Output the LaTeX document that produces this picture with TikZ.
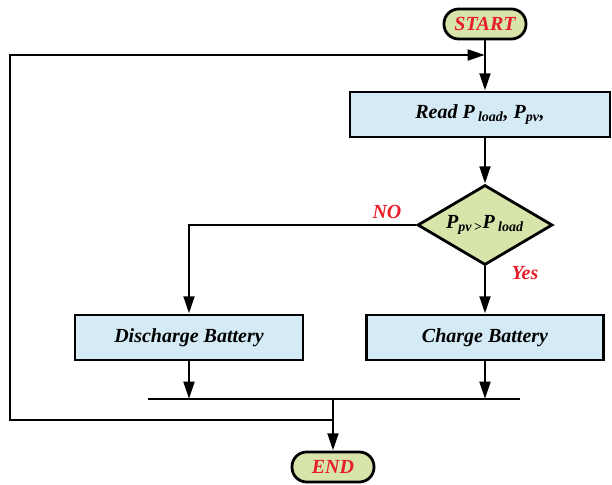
\documentclass[tikz,border=0pt]{standalone}
\usepackage{fontspec}
\setmainfont{Liberation Serif}
\usepackage{xcolor}
\usetikzlibrary{shapes.geometric,arrows.meta}
\definecolor{boxblue}{RGB}{212,235,245}
\definecolor{termgreen}{RGB}{215,228,170}
\definecolor{labelred}{RGB}{232,30,40}

\begin{document}
\begin{tikzpicture}[x=0.75pt,y=0.75pt,yscale=-1,xscale=1,
    line/.style={line width=2.1pt},
    arr/.style={line width=2.1pt,-{Triangle[length=13pt,width=8pt]}},
    bfit/.style={font=\fontsize{15}{18}\selectfont\bfseries\itshape},
    term/.style={draw,line width=2.1pt,fill=termgreen,rounded corners=11pt,minimum width=61.5pt,minimum height=22.5pt,inner sep=0pt,text=labelred,bfit},
    proc/.style={draw,line width=2.1pt,fill=boxblue,minimum height=33.75pt,inner sep=0pt,bfit},
    cond/.style={draw,diamond,shape aspect=1.7,line width=2.1pt,fill=termgreen,minimum width=101.25pt,minimum height=60pt,inner sep=0pt,bfit},
    lbl/.style={text=labelred,bfit}]
    \useasboundingbox (0,0) rectangle (612,485);
    % Terminals
    \node[term] (start) at (485,24) {START};
    \node[term] (end) at (333,467) {END};
    % Process boxes
    \node[proc,minimum width=195pt] (read) at (480,114.5) {Read P\,\textsubscript{load}, P\textsubscript{pv},};
    \node[proc,minimum width=171pt] (dis) at (189,337.5) {Discharge Battery};
    \node[proc,minimum width=177.75pt] (chg) at (485,337.5) {Charge Battery};
    % Decision
    \node[cond] (cond) at (485,225) {P\textsubscript{pv\,>}P\,\textsubscript{load}};
    % Branch labels
    \node[lbl] (no) at (387,212) {NO};
    \node[lbl] (yes) at (525,273) {Yes};
    % Collecting bar and loop corners
    \coordinate (barl) at (148,399);
    \coordinate (barr) at (520,399);
    \coordinate (looptl) at (10,55);
    \coordinate (loopbl) at (10,420);
    %Straight Lines
    \draw[arr] (start.south) -- (start.south|-read.north);
    \draw[arr] (read.south-|cond.north) -- (cond.north);
    \draw[arr] (cond.west) -| (dis.north);
    \draw[arr] (cond.south) -- (chg.north);
    \draw[arr] (dis.south) -- (dis.south|-barl);
    \draw[arr] (chg.south) -- (chg.south|-barl);
    \draw[line] (barl) -- (barr);
    \draw[arr] (end|-barl) -- (end.north);
    % Loop back
    \draw[arr] (end|-loopbl) -- (loopbl) -- (looptl) -- (start|-looptl);
\end{tikzpicture}
\end{document}
